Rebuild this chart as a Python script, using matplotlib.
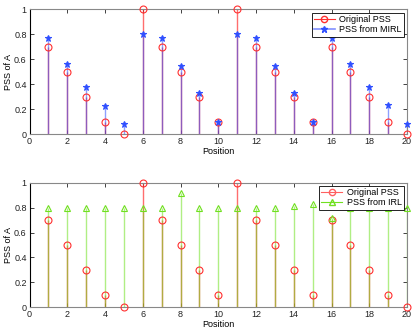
import matplotlib
matplotlib.use("Agg")
import matplotlib.pyplot as plt
from matplotlib.lines import Line2D

positions = list(range(1, 21))
original_pss = [0.7, 0.5, 0.3, 0.1, 0.0, 1.0, 0.7, 0.5, 0.3, 0.1,
                1.0, 0.7, 0.5, 0.3, 0.1, 0.7, 0.5, 0.3, 0.1, 0.0]
mirl_pss = [0.77, 0.56, 0.38, 0.23, 0.085, 0.8, 0.77, 0.55, 0.33, 0.1,
            0.8, 0.77, 0.55, 0.33, 0.1, 0.77, 0.56, 0.38, 0.235, 0.085]
irl_pss = [0.8, 0.8, 0.8, 0.8, 0.8, 0.8, 0.8, 0.92, 0.8, 0.8,
           0.8, 0.8, 0.8, 0.81, 0.83, 0.72, 0.8, 0.8, 0.8, 0.8]
xticks = list(range(0, 21, 2))
yticks = [0, 0.2, 0.4, 0.6, 0.8, 1.0]

plt.rcParams['font.family'] = ['Liberation Sans', 'DejaVu Sans']

fig = plt.figure(figsize=(4.15, 3.32), dpi=100)
W, H = 415, 332
def ax_rect(l, t, r, b):
    return [l / W, 1 - b / H, (r - l) / W, (b - t) / H]

ax1 = fig.add_axes(ax_rect(29.5, 9.5, 407, 134.3))
ax2 = fig.add_axes(ax_rect(29.5, 182.7, 407, 307.3))

red = '#ff3030'
blue = '#3050ff'
green = '#70e020'

def stem(ax, x, y, color, marker, ms, alpha, mfc='none'):
    ax.vlines(x, 0, y, colors=color, linewidth=1.0, alpha=alpha, zorder=2)
    ax.plot(x, y, linestyle='none', marker=marker, markersize=ms,
            markeredgecolor=color, markerfacecolor=mfc, markeredgewidth=0.8,
            zorder=3, clip_on=False)

def style(ax):
    ax.set_xlim(0, 20)
    ax.set_ylim(0, 1)
    ax.set_xticks(xticks)
    ax.set_yticks(yticks)
    ax.set_yticklabels(['0', '0.2', '0.4', '0.6', '0.8', '1'])
    ax.tick_params(direction='in', length=3, width=0.6, labelsize=6.5,
                   top=True, right=True, pad=2, colors='#222222')
    for s in ax.spines.values():
        s.set_linewidth(0.8)
        s.set_color('#888888')
    ax.spines['left'].set_color('black')
    ax.set_xlabel('Position', fontsize=6.5, labelpad=1)
    ax.set_ylabel('PSS of A', fontsize=6.5, labelpad=1)

def legend(ax, handles, labels):
    leg = ax.legend(handles, labels, loc='upper right',
                    fontsize=6.5, frameon=True, fancybox=False, borderpad=0.25,
                    handlelength=2.3, labelspacing=0.15, borderaxespad=0.35,
                    handletextpad=0.5, framealpha=1)
    leg.get_frame().set_edgecolor('black')
    leg.get_frame().set_linewidth(0.6)
    leg.set_zorder(5)
    return leg

# Top panel
stem(ax1, positions, original_pss, red, 'o', 5, 0.7)
stem(ax1, positions, mirl_pss, blue, '*', 4.5, 0.55, mfc=blue)
style(ax1)
h1 = [Line2D([], [], color=red, marker='o', mfc='none', ms=4.5, lw=0.8),
      Line2D([], [], color='#8090ff', marker='*', mfc=blue, mec=blue, ms=4.5, lw=1.2)]
legend(ax1, h1, ['Original PSS', 'PSS from MIRL'])

# Bottom panel
stem(ax2, positions, original_pss, red, 'o', 5, 0.7)
stem(ax2, positions, irl_pss, green, '^', 4.5, 0.55)
style(ax2)
h2 = [Line2D([], [], color='#ff6060', marker='o', mfc='none', ms=4.5, lw=0.8),
      Line2D([], [], color=green, marker='^', mfc='none', ms=4.5, lw=0.8)]
legend(ax2, h2, ['Original PSS', 'PSS from IRL'])

fig.savefig('out.png', dpi=100)
